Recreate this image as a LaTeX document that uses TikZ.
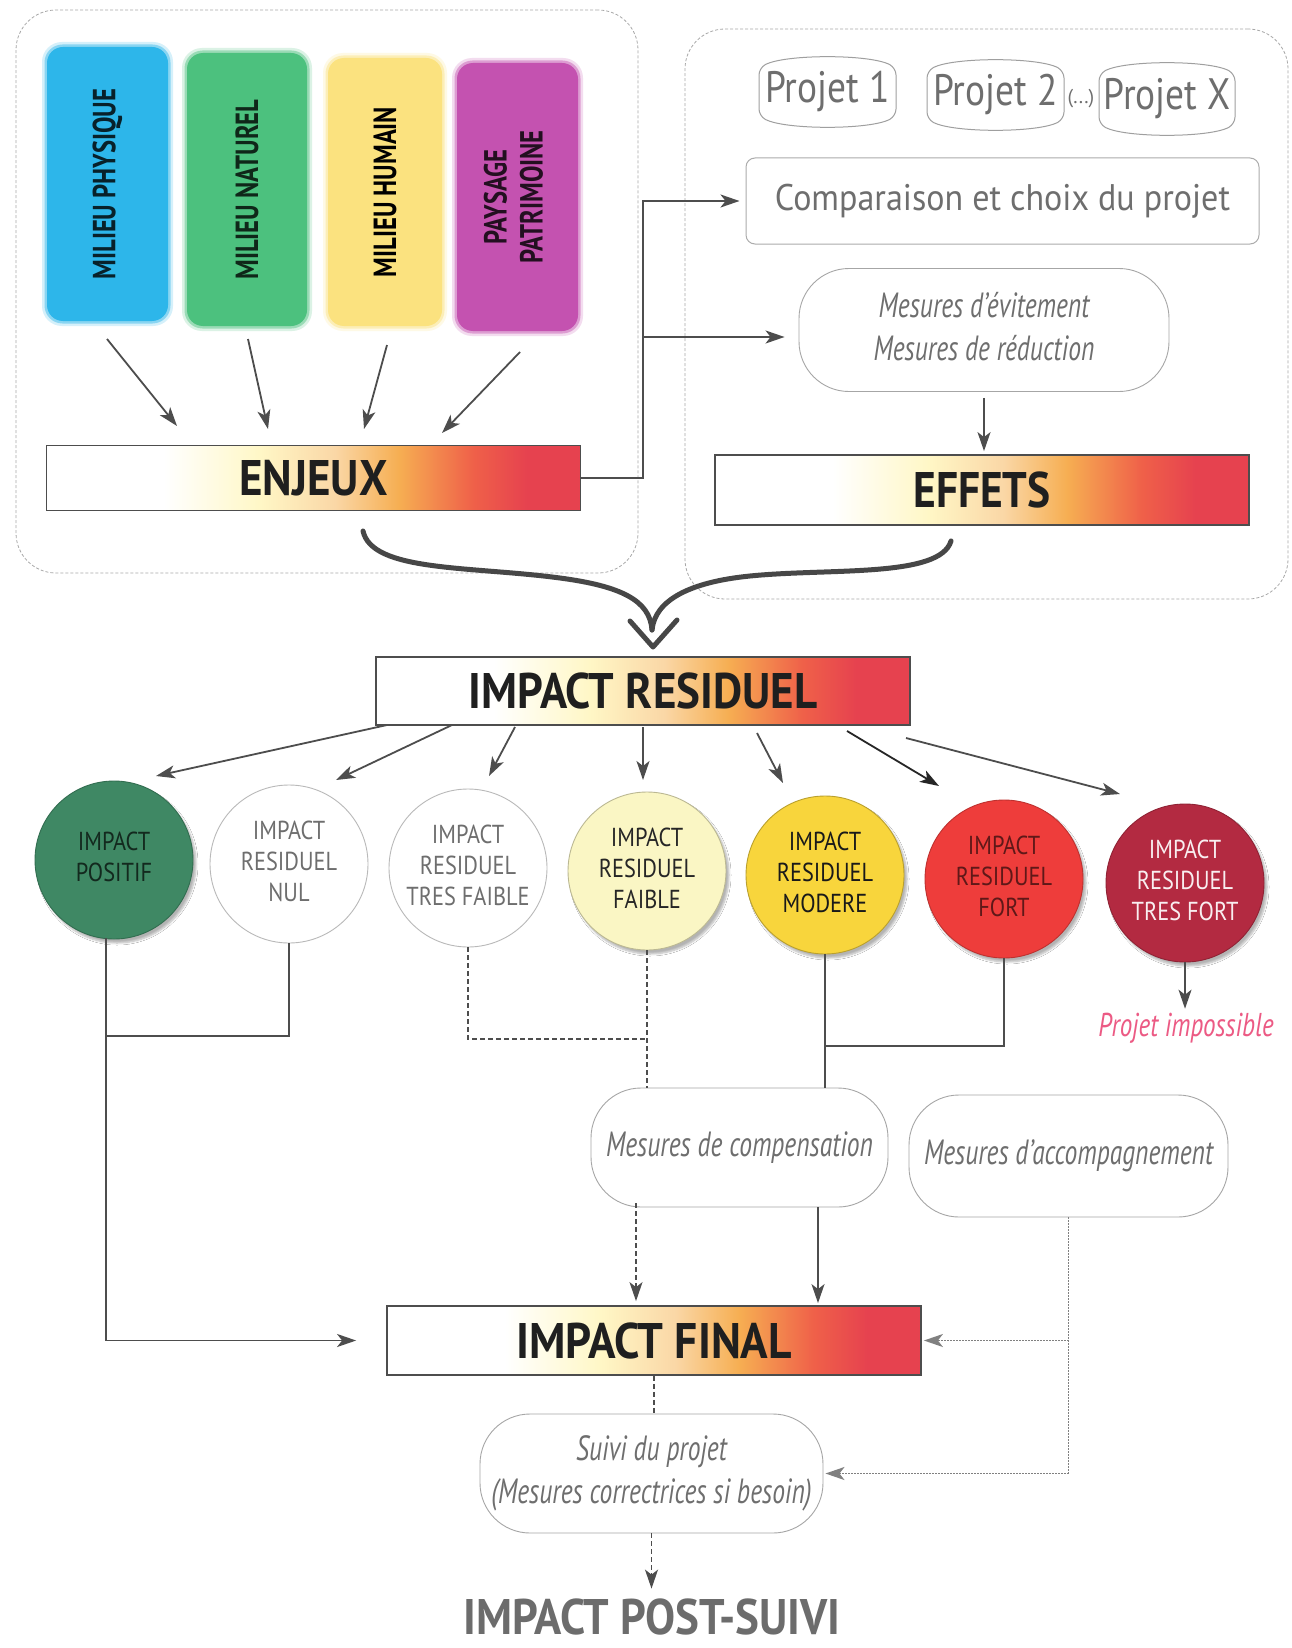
\documentclass[tikz,border=0pt]{standalone}
\usepackage{fontspec}
\setmainfont{PT Sans}
\usepackage{graphicx}
\usetikzlibrary{arrows.meta,shadows.blur}
\definecolor{cblue}{HTML}{2DB6EA}
\definecolor{cgreen}{HTML}{4CC17E}
\definecolor{cyellow}{HTML}{FBE27F}
\definecolor{cpurple}{HTML}{C452B0}
\definecolor{txtgrey}{HTML}{6E6E6E}
\definecolor{lineg}{HTML}{4D4D4D}
\definecolor{boxg}{HTML}{A8A8A8}
\definecolor{ipos}{HTML}{3F8864}
\definecolor{ifaible}{HTML}{FAF6C4}
\definecolor{imod}{HTML}{F8D53C}
\definecolor{ifort}{HTML}{EE3D3B}
\definecolor{itfort}{HTML}{B32A41}
\definecolor{hyel}{HTML}{FFF7C6}
\definecolor{hpeach}{HTML}{FAD7A6}
\definecolor{horange}{HTML}{F6AE52}
\definecolor{hred}{HTML}{EF6049}
\definecolor{hredd}{HTML}{E6424F}
\definecolor{pinkt}{HTML}{EC5A84}
\pgfdeclarehorizontalshading{heat}{100bp}{color(0bp)=(white); color(25bp)=(white); color(36bp)=(white); color(45bp)=(hyel); color(52bp)=(hpeach); color(58bp)=(horange); color(65bp)=(hred); color(70bp)=(hredd); color(100bp)=(hredd)}
\newcommand\sx[2]{\scalebox{#1}[1]{#2}}
\newcommand\sxl[2]{\scalebox{#1}[1]{\begin{tabular}{@{}c@{}}#2\end{tabular}}}
\newcommand\halo[5]{%
  \fill[#1, opacity=0.2, rounded corners=20pt] (#2-5,#3-5) rectangle (#4+5,#5+5);
  \fill[#1, opacity=0.45, rounded corners=18pt] (#2-2.5,#3-2.5) rectangle (#4+2.5,#5+2.5);}
\begin{document}
\begin{tikzpicture}[x=1pt,y=-1pt,
  >={Stealth[length=19pt,width=13pt,inset=5pt]},
  cont/.style={draw=boxg, line width=0.8pt, dash pattern=on 3pt off 2pt, rounded corners=40pt, inner sep=0pt},
  colbox/.style={rounded corners=16pt, inner sep=0pt, rotate=90, font=\bfseries\fontsize{32}{36}\selectfont},
  bar/.style={draw=lineg, line width=1.8pt, shade, shading=heat, minimum width=534pt, inner sep=0pt, font=\bfseries\fontsize{50}{54}\selectfont, text=black!88},
  projtext/.style={inner sep=0pt, text=txtgrey, font=\fontsize{44}{48}\selectfont},
  projshape/.style={draw=gray!75, line width=1pt, rounded corners=7pt},
  meas/.style={draw=gray!70, line width=0.9pt, rounded corners=50pt, inner sep=0pt, text=txtgrey, font=\itshape\fontsize{35}{43}\selectfont},
  circ/.style={circle, minimum size=158pt, inner sep=0pt, line width=0.9pt, font=\fontsize{26}{31}\selectfont},
  shad/.style={blur shadow={shadow xshift=3pt, shadow yshift=-4pt, shadow blur steps=6, shadow opacity=30}},
  conn/.style={draw=lineg, line width=1.8pt, ->},
  plain/.style={draw=lineg, line width=1.8pt},
  dplain/.style={draw=lineg, line width=1.6pt, dash pattern=on 5pt off 3pt},
  dconn/.style={dplain, ->},
  dotl/.style={draw=gray, line width=1.6pt, dash pattern=on 1.5pt off 1.5pt},
  brace/.style={draw=black!72, line width=5pt, line cap=round}
]
\useasboundingbox[fill=white] (0,0) rectangle (1291,1648);

% containers
\node[cont, minimum width=622pt, minimum height=563pt] (zoneA) at (327,291.5) {};
\node[cont, minimum width=603pt, minimum height=570pt] (zoneB) at (986.5,314) {};

% coloured boxes
\halo{cblue}{47}{47}{168}{321}
\halo{cgreen}{187}{53}{307}{326}
\halo{cyellow}{328}{58}{442}{326}
\halo{cpurple}{457}{63}{578}{331}
\node[colbox, fill=cblue, minimum width=274pt, minimum height=121pt, text=black!70!cblue!60!black] (phys) at (107.5,184) {\sx{0.77}{MILIEU PHYSIQUE}};
\node[colbox, fill=cgreen, minimum width=273pt, minimum height=120pt, text=black!60!cgreen!50!black] (nat) at (247,189.5) {\sx{0.77}{MILIEU NATUREL}};
\node[colbox, fill=cyellow, minimum width=268pt, minimum height=114pt, text=black] (hum) at (385,192) {\sx{0.77}{MILIEU HUMAIN}};
\node[colbox, fill=cpurple, minimum width=268pt, minimum height=121pt, text=black!60!cpurple!45!black] (pay) at (517.5,197) {\sxl{0.77}{PAYSAGE\\PATRIMOINE}};

% ENJEUX
\node[bar, minimum height=65pt] (enjeux) at (313.5,478) {\sx{0.9}{ENJEUX}};
\coordinate (a1s) at (107,339); \coordinate (a1e) at (177,426);
\coordinate (a2s) at (248,339); \coordinate (a2e) at (268,429);
\coordinate (a3s) at (387,345); \coordinate (a3e) at (364,429);
\coordinate (a4s) at (520,352); \coordinate (a4e) at (442,433);
\draw[conn] (a1s) -- (a1e);
\draw[conn] (a2s) -- (a2e);
\draw[conn] (a3s) -- (a3e);
\draw[conn] (a4s) -- (a4e);

% projects
\node[projtext] (p1) at (827.5,91.5) {\sx{0.85}{Projet 1}};
\node[projtext] (p2) at (995.5,95) {\sx{0.85}{Projet 2}};
\node[projtext] (px) at (1167,99) {\sx{0.85}{Projet X}};
\node[inner sep=0pt, text=txtgrey, font=\fontsize{20}{22}\selectfont] (dots) at (1081,99) {(...)};
\draw[projshape] (759,68) .. controls (785,54) and (870,54) .. (896,68) -- (896,116) .. controls (870,130) and (785,130) .. (759,116) -- cycle;
\draw[projshape] (927,71) .. controls (953,57) and (1038,57) .. (1064,71) -- (1064,119) .. controls (1038,133) and (953,133) .. (927,119) -- cycle;
\draw[projshape] (1099,74) .. controls (1125,60) and (1209,60) .. (1235,74) -- (1235,124) .. controls (1209,138) and (1125,138) .. (1099,124) -- cycle;

\node[draw=gray!65, line width=1pt, rounded corners=9pt, minimum width=513pt, minimum height=86pt, inner sep=0pt, text=txtgrey, font=\fontsize{37}{40}\selectfont] (comp) at (1002.5,201) {\sx{0.92}{Comparaison et choix du projet}};
\node[meas, minimum width=370pt, minimum height=123pt] (evit) at (984,330) {\sxl{0.73}{Mesures d'évitement\\Mesures de réduction}};
\node[bar, minimum height=70pt] (effets) at (982,490) {\sx{0.87}{EFFETS}};

\coordinate (j1) at (643,478);
\coordinate (j2) at (643,337);
\draw[conn, shorten >=6pt] (enjeux.east) -- (j1) |- (comp.west);
\draw[conn, shorten >=14pt] (j2) -- (j2 -| evit.west);
\draw[conn, shorten <=6pt, shorten >=3pt] (evit.south) -- (evit.south |- effets.north);

% brace
\draw[brace] (363,531) .. controls (372,572) and (470,566) .. (560,578) .. controls (620,586) and (650,600) .. (652,630);
\draw[brace] (951,541) .. controls (940,578) and (830,568) .. (750,576) .. controls (690,582) and (655,600) .. (652,630);
\draw[brace, line join=round] (630,621) -- (653,647) -- (677,620);

% impact residuel
\node[bar, minimum height=68pt] (ir) at (643,691) {\sx{0.9}{IMPACT RESIDUEL}};

% circles
\node[circ, shad, fill=ipos, draw=ipos!80!black, text=black!70!ipos] (pos) at (114,860) {\sxl{0.86}{IMPACT\\POSITIF}};
\node[circ, fill=white, draw=gray!55, text=txtgrey] (nul) at (289,864) {\sxl{0.86}{IMPACT\\RESIDUEL\\NUL}};
\node[circ, fill=white, draw=gray!55, text=txtgrey] (tf) at (468,868) {\sxl{0.86}{IMPACT\\RESIDUEL\\TRES FAIBLE}};
\node[circ, shad, fill=ifaible, draw=ifaible!75!black, text=black!85] (fai) at (647,871) {\sxl{0.86}{IMPACT\\RESIDUEL\\FAIBLE}};
\node[circ, shad, fill=imod, draw=imod!75!black, text=black!90] (mod) at (825,875) {\sxl{0.86}{IMPACT\\RESIDUEL\\MODERE}};
\node[circ, shad, fill=ifort, draw=ifort!80!black, text=black!60!ifort] (fort) at (1004,879) {\sxl{0.86}{IMPACT\\RESIDUEL\\FORT}};
\node[circ, shad, fill=itfort, draw=itfort!80!black, text=white!92!itfort] (tfort) at (1185,883) {\sxl{0.86}{IMPACT\\RESIDUEL\\TRES FORT}};

\coordinate (r1s) at (387,725); \coordinate (r1e) at (156,776);
\coordinate (r2s) at (452,725); \coordinate (r2e) at (336,780);
\coordinate (r3s) at (515,727); \coordinate (r3e) at (489,776);
\coordinate (r4s) at (643,727); \coordinate (r4e) at (643,780);
\coordinate (r5s) at (757,733); \coordinate (r5e) at (783,783);
\coordinate (r6s) at (847,731); \coordinate (r6e) at (939,786);
\coordinate (r7s) at (906,738); \coordinate (r7e) at (1120,794);
\draw[conn] (r1s) -- (r1e);
\draw[conn] (r2s) -- (r2e);
\draw[conn] (r3s) -- (r3e);
\draw[conn] (r4s) -- (r4e);
\draw[conn] (r5s) -- (r5e);
\draw[conn, draw=black!85] (r6s) -- (r6e);
\draw[conn] (r7s) -- (r7e);

\node[inner sep=0pt, text=pinkt, font=\itshape\fontsize{33}{36}\selectfont] (imp) at (1186,1028) {\sx{0.76}{Projet impossible}};
\draw[conn, shorten >=4pt] (tfort.south) -- (tfort.south |- imp.north);

% measures
\node[meas, minimum width=297pt, minimum height=119pt] (compens) at (739.5,1147.5) {\sx{0.73}{Mesures de compensation}};
\node[meas, minimum width=319pt, minimum height=122pt] (acc) at (1068.5,1156) {\sx{0.73}{Mesures d'accompagnement}};

% final
\node[bar, minimum height=69pt] (fin) at (654,1340.5) {\sx{0.91}{IMPACT FINAL}};

\coordinate (pb) at (106,938);
\coordinate (k1) at (106,1036);
\coordinate (k3) at (647,1039);
\coordinate (k4) at (825,1046);
\draw[conn, shorten >=30pt] (pb) |- (fin.west);
\draw[plain] (nul.south) |- (k1);
\draw[dplain] (tf.south) |- (k3);
\draw[dplain] (fai.south) -- (fai.south |- compens.north);
\draw[plain] (mod.south) -- (mod.south |- compens.north);
\draw[plain] (fort.south) |- (k4);

\coordinate (c1) at (636,1203);
\coordinate (c2) at (818,1207);
\draw[dconn, shorten >=4pt] (c1) -- (c1 |- fin.north);
\draw[conn, shorten >=2pt] (c2) -- (c2 |- fin.north);

% suivi
\node[meas, minimum width=343pt, minimum height=119pt] (suivi) at (651.5,1473.5) {\sxl{0.73}{Suivi du projet\\(Mesures correctrices si besoin)}};
\draw[dplain] (fin.south) -- (fin.south |- suivi.north);
\draw[dotl] (acc.south) -- (acc.south |- suivi.east);
\draw[dotl, ->, shorten >=2pt] (acc.south |- fin.east) -- (fin.east);
\draw[dotl, ->, shorten >=2pt] (acc.south |- suivi.east) -- (suivi.east);

\node[inner sep=0pt, text=gray!85!black, font=\bfseries\fontsize{50}{54}\selectfont] (post) at (652,1617) {\sx{0.9}{IMPACT POST-SUIVI}};
\draw[dconn, shorten >=10pt] (suivi.south) -- (suivi.south |- post.north);
\end{tikzpicture}
\end{document}
